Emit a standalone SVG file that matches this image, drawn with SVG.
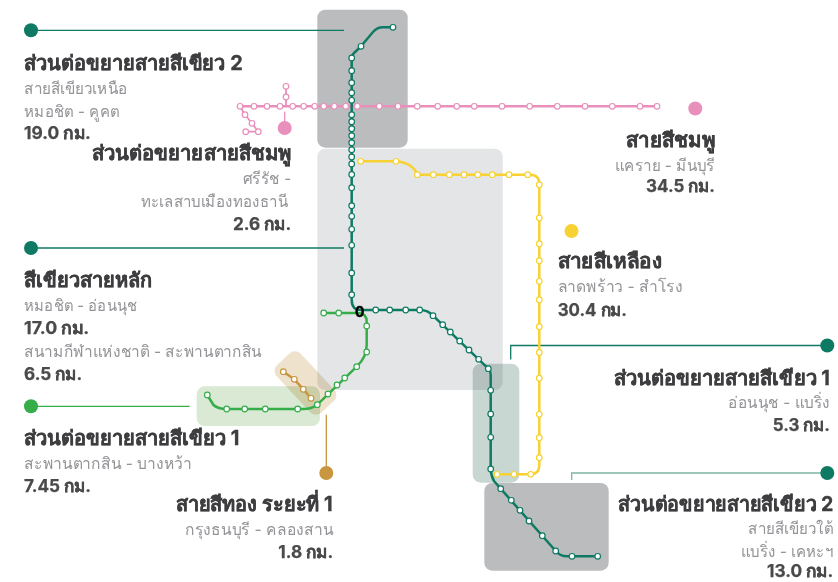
<svg xmlns="http://www.w3.org/2000/svg" width="838" height="582" viewBox="0 0 838 582">
<style>
text{font-family:"Inter","Noto Sans","Liberation Sans",sans-serif}
.h{font-size:20px;font-weight:700;fill:#3e3e40;stroke:#3e3e40;stroke-width:.35px}
.s{font-size:16px;fill:#939497}
.k{font-size:17px;font-weight:700;fill:#4a4a4c;stroke:#4a4a4c;stroke-width:.25px}
.e{text-anchor:end}
.p{mix-blend-mode:multiply}
.d{fill:#bbbcbe}
.l{fill:none;stroke-width:2.5;stroke-linejoin:round}
.c{fill:none;stroke-width:1.3}
.teal .l{stroke:#0f7a63}.teal circle{stroke:#0f7a63}
.pink .l{stroke:#e88fbb}.pink circle{stroke:#e88fbb}
.yellow .l{stroke:#f8d232}.yellow circle{stroke:#f8d232}
.green .l{stroke:#35ae4a}.green circle{stroke:#35ae4a}
.gold .l{stroke:#c8963e}.gold circle{stroke:#c8963e}
.st circle{fill:#fff;stroke-width:1.2;r:2.8px}
</style>
<rect width="838" height="582" fill="#fff"/>
<g id="panels">
<rect class="p" x="317.3" y="148.7" width="185.4" height="241.3" rx="8" fill="#e4e5e7"/>
<rect class="p d" x="317.3" y="9.7" width="90.4" height="138" rx="8"/>
<rect class="p" x="472.7" y="363.7" width="46.6" height="119" rx="8" fill="#c9d7d2"/>
<rect class="p d" x="484.3" y="483" width="124.4" height="87.7" rx="8"/>
<rect class="p" x="196.7" y="386.3" width="123.3" height="39.7" rx="8" fill="#d9e9d3"/>
<rect class="p" x="273" y="366.5" width="65" height="33" rx="8" fill="#efe2cd" transform="rotate(47 305.5 383)"/>
</g>
<g id="connectors">
<path class="c" stroke="#0f7a63" d="M31 30.3H344"/>
<path class="c" stroke="#0f7a63" d="M31 248H344"/>
<path class="c" stroke="#35ae4a" d="M31 406.3H189.7"/>
<path class="c" stroke="#c8963e" d="M326.3 414.7V473"/>
<path class="c" stroke="#e88fbb" d="M284.7 111.7V128"/>
<path class="c" stroke="#0f7a63" d="M827.3 345.5H510.7V359.5"/>
<path class="c" stroke="#7fb5a5" d="M827.3 473H571.7V480"/>
</g>
<g id="line-pink" class="pink st">
<path class="l" d="M240 106.3H657"/>
<path class="l" style="stroke-width:1.8" d="M286 86.3V106.3M240 106.3L245 114.7L252 123.3L258.3 131.7H245.7"/>
<circle cx="240" cy="106.3"/><circle cx="254" cy="106.3"/><circle cx="267" cy="106.3"/><circle cx="280" cy="106.3"/><circle cx="292.7" cy="106.3"/><circle cx="303.7" cy="106.3"/><circle cx="314.7" cy="106.3"/><circle cx="323.7" cy="106.3"/><circle cx="334.3" cy="106.3"/><circle cx="345.7" cy="106.3"/><circle cx="357.3" cy="106.3"/><circle cx="379.3" cy="106.3"/><circle cx="398" cy="106.3"/><circle cx="417.3" cy="106.3"/><circle cx="437.7" cy="106.3"/><circle cx="456.7" cy="106.3"/><circle cx="474.3" cy="106.3"/><circle cx="502" cy="106.3"/><circle cx="529.7" cy="106.3"/><circle cx="557.3" cy="106.3"/><circle cx="585" cy="106.3"/><circle cx="612.3" cy="106.3"/><circle cx="640" cy="106.3"/><circle cx="657" cy="106.3"/>
<circle cx="286" cy="86.3"/><circle cx="286" cy="97"/><circle cx="245" cy="114.7"/><circle cx="252" cy="123.3"/><circle cx="258.3" cy="131.7"/><circle cx="245.7" cy="131.7"/>
</g>
<g id="line-yellow" class="yellow st">
<path class="l" d="M360.7 161.3H396Q413 163 417.3 174.7H530Q539.3 174.7 539.3 184V465Q539.3 474.3 530 474.3H497"/>
<circle cx="360.7" cy="161.3"/><circle cx="396" cy="161.3"/><circle cx="417.3" cy="174.7"/><circle cx="433.3" cy="174.7"/><circle cx="449.3" cy="174.7"/><circle cx="464" cy="174.7"/><circle cx="477.7" cy="174.7"/><circle cx="492.3" cy="174.7"/><circle cx="509" cy="174.7"/><circle cx="527.7" cy="174.7"/>
<circle cx="539.3" cy="184.7"/><circle cx="539.3" cy="218"/><circle cx="539.3" cy="243.7"/><circle cx="539.3" cy="260.7"/><circle cx="539.3" cy="281.3"/><circle cx="539.3" cy="299.7"/><circle cx="539.3" cy="326.7"/><circle cx="539.3" cy="352.5"/><circle cx="539.3" cy="378.2"/><circle cx="539.3" cy="414.3"/><circle cx="539.3" cy="437.7"/><circle cx="539.3" cy="457.7"/>
<circle cx="530.7" cy="474.3"/><circle cx="514" cy="474.3"/><circle cx="497" cy="474.3"/>
</g>
<g id="line-green" class="green st">
<path class="l" d="M323.7 313H358Q366.7 313 366.7 322V345Q366.7 357 356.7 366.7L317.3 404.7Q311 409 304 409H226.7Q218 409 213.5 405L207.3 395"/>
<circle cx="323.7" cy="313"/><circle cx="338.7" cy="313"/><circle cx="366.7" cy="326"/><circle cx="366.7" cy="352"/><circle cx="356.7" cy="366.7"/><circle cx="344.7" cy="378"/><circle cx="337" cy="385"/><circle cx="328" cy="394"/><circle cx="317.3" cy="404.7"/><circle cx="297.7" cy="409"/><circle cx="265.3" cy="409"/><circle cx="244.7" cy="409"/><circle cx="226.7" cy="409"/><circle cx="207.3" cy="395"/>
</g>
<g id="line-gold" class="gold st">
<path class="l" d="M283.3 371.7L294.3 379.3L303.3 389.3L311 398.3"/>
<circle cx="283.3" cy="371.7"/><circle cx="294.3" cy="379.3"/><circle cx="303.3" cy="389.3"/><circle cx="311" cy="398.3"/>
</g>
<g id="line-teal" class="teal st">
<path class="l" d="M393 27.3H383Q377 27.3 373 32L361 46.3L354 53Q351.7 55 351.7 58V300Q351.7 310 361 310H420Q428 310 433 315.7L488.3 368.7Q490.7 371 490.7 375V469Q491 476 494 481L500.7 488.7L555.7 551Q560 556.3 567 556.3H597.7"/>
<circle cx="393" cy="27.3"/><circle cx="361" cy="46.3"/><circle cx="351.7" cy="58"/><circle cx="351.7" cy="70.7"/><circle cx="351.7" cy="82.7"/><circle cx="351.7" cy="92.7"/><circle cx="351.7" cy="100.3"/><circle cx="351.7" cy="114.7"/><circle cx="351.7" cy="121.7"/><circle cx="351.7" cy="128.7"/><circle cx="351.7" cy="135.7"/><circle cx="351.7" cy="142.7"/><circle cx="351.7" cy="149.7"/><circle cx="351.7" cy="157"/><circle cx="351.7" cy="164"/><circle cx="351.7" cy="174.5"/><circle cx="351.7" cy="187.7"/><circle cx="351.7" cy="205.7"/><circle cx="351.7" cy="216.3"/><circle cx="351.7" cy="229.3"/><circle cx="351.7" cy="245.3"/><circle cx="351.7" cy="273"/><circle cx="351.7" cy="294.7"/>
<circle cx="375.7" cy="310"/><circle cx="389.7" cy="310"/><circle cx="405.7" cy="310"/><circle cx="419.7" cy="310"/><circle cx="433" cy="315.7"/><circle cx="442.7" cy="324.7"/><circle cx="450.3" cy="332"/><circle cx="459.7" cy="341"/><circle cx="469" cy="350"/><circle cx="478.7" cy="359.3"/><circle cx="488.3" cy="368.7"/>
<circle cx="490.7" cy="390.3"/><circle cx="490.7" cy="414"/><circle cx="490.7" cy="437.3"/><circle cx="490.7" cy="469"/><circle cx="500.7" cy="488.7"/><circle cx="511.3" cy="500.3"/><circle cx="520" cy="510.3"/><circle cx="529" cy="521"/><circle cx="542.3" cy="535.7"/><circle cx="555.7" cy="551"/><circle cx="572" cy="556.3"/><circle cx="597.7" cy="556.3"/>
</g>
<g id="junction"><text x="359.7" y="316.8" text-anchor="middle" font-size="14" font-weight="700" fill="#000" stroke="#000" stroke-width=".4">0</text></g>
<g id="dots">
<circle id="dot-north" cx="31" cy="30.3" r="7" fill="#0f7a63"/>
<circle id="dot-main" cx="31" cy="248" r="7" fill="#0f7a63"/>
<circle id="dot-green" cx="31" cy="406.3" r="7" fill="#35ae4a"/>
<circle id="dot-gold" cx="326.3" cy="473" r="7" fill="#c8963e"/>
<circle id="dot-pink-ext" cx="284.7" cy="128" r="7" fill="#e88fbb"/>
<circle id="dot-pink" cx="695.3" cy="108.5" r="7" fill="#e88fbb"/>
<circle id="dot-yellow" cx="571.5" cy="231" r="7" fill="#f8d232"/>
<circle id="dot-east" cx="827.3" cy="345.5" r="7" fill="#0f7a63"/>
<circle id="dot-south" cx="827.3" cy="473" r="7" fill="#0f7a63"/>
</g>
<g id="label-north">
<text class="h" x="24" y="70" textLength="218.7" lengthAdjust="spacingAndGlyphs">ส่วนต่อขยายสายสีเขียว 2</text>
<text class="s" x="24" y="94" textLength="103.7" lengthAdjust="spacingAndGlyphs">สายสีเขียวเหนือ</text>
<text class="s" x="24" y="117" textLength="95.3" lengthAdjust="spacingAndGlyphs">หมอชิต - คูคต</text>
<text class="k" x="24" y="138.5" textLength="66.7" lengthAdjust="spacingAndGlyphs">19.0 กม.</text>
</g>
<g id="label-pink-ext">
<text class="h e" x="291.3" y="159.5" textLength="199.6" lengthAdjust="spacingAndGlyphs">ส่วนต่อขยายสายสีชมพู</text>
<text class="s e" x="291.3" y="184" textLength="48.6" lengthAdjust="spacingAndGlyphs">ศรีรัช -</text>
<text class="s e" x="288" y="207" textLength="147.3" lengthAdjust="spacingAndGlyphs">ทะเลสาบเมืองทองธานี</text>
<text class="k e" x="291.3" y="230" textLength="58.3" lengthAdjust="spacingAndGlyphs">2.6 กม.</text>
</g>
<g id="label-main">
<text class="h" x="24" y="286.7" textLength="128" lengthAdjust="spacingAndGlyphs">สีเขียวสายหลัก</text>
<text class="s" x="24" y="310.7" textLength="113.3" lengthAdjust="spacingAndGlyphs">หมอชิต - อ่อนนุช</text>
<text class="k" x="24" y="334" textLength="65.3" lengthAdjust="spacingAndGlyphs">17.0 กม.</text>
<text class="s" x="24" y="357.3" textLength="238" lengthAdjust="spacingAndGlyphs">สนามกีฬาแห่งชาติ - สะพานตากสิน</text>
<text class="k" x="24" y="380" textLength="58.3" lengthAdjust="spacingAndGlyphs">6.5 กม.</text>
</g>
<g id="label-west">
<text class="h" x="24" y="445.3" textLength="215.3" lengthAdjust="spacingAndGlyphs">ส่วนต่อขยายสายสีเขียว 1</text>
<text class="s" x="24" y="469.3" textLength="168" lengthAdjust="spacingAndGlyphs">สะพานตากสิน - บางหว้า</text>
<text class="k" x="24" y="491.7" textLength="67" lengthAdjust="spacingAndGlyphs">7.45 กม.</text>
</g>
<g id="label-gold">
<text class="h e" x="332.7" y="511" textLength="157" lengthAdjust="spacingAndGlyphs">สายสีทอง ระยะที่ 1</text>
<text class="s e" x="333.3" y="535" textLength="148.3" lengthAdjust="spacingAndGlyphs">กรุงธนบุรี - คลองสาน</text>
<text class="k e" x="333.3" y="557.7" textLength="55" lengthAdjust="spacingAndGlyphs">1.8 กม.</text>
</g>
<g id="label-pink">
<text class="h e" x="715" y="147.3" textLength="89" lengthAdjust="spacingAndGlyphs">สายสีชมพู</text>
<text class="s e" x="715" y="170.7" textLength="100" lengthAdjust="spacingAndGlyphs">แคราย - มีนบุรี</text>
<text class="k e" x="715" y="192.3" textLength="69" lengthAdjust="spacingAndGlyphs">34.5 กม.</text>
</g>
<g id="label-yellow">
<text class="h" x="557.7" y="268.3" textLength="104.3" lengthAdjust="spacingAndGlyphs">สายสีเหลือง</text>
<text class="s" x="557.7" y="292.3" textLength="125.3" lengthAdjust="spacingAndGlyphs">ลาดพร้าว - สำโรง</text>
<text class="k" x="557.7" y="315.5" textLength="69.3" lengthAdjust="spacingAndGlyphs">30.4 กม.</text>
</g>
<g id="label-east">
<text class="h e" x="830" y="385" textLength="216" lengthAdjust="spacingAndGlyphs">ส่วนต่อขยายสายสีเขียว 1</text>
<text class="s e" x="830" y="408" textLength="102" lengthAdjust="spacingAndGlyphs">อ่อนนุช - แบริ่ง</text>
<text class="k e" x="830" y="431" textLength="57.3" lengthAdjust="spacingAndGlyphs">5.3 กม.</text>
</g>
<g id="label-south">
<text class="h e" x="833.3" y="511" textLength="215" lengthAdjust="spacingAndGlyphs">ส่วนต่อขยายสายสีเขียว 2</text>
<text class="s e" x="833.3" y="534" textLength="85" lengthAdjust="spacingAndGlyphs">สายสีเขียวใต้</text>
<text class="s e" x="833.3" y="557" textLength="92.3" lengthAdjust="spacingAndGlyphs">แบริ่ง - เคหะฯ</text>
<text class="k e" x="833.3" y="577" textLength="66.3" lengthAdjust="spacingAndGlyphs">13.0 กม.</text>
</g>
</svg>
